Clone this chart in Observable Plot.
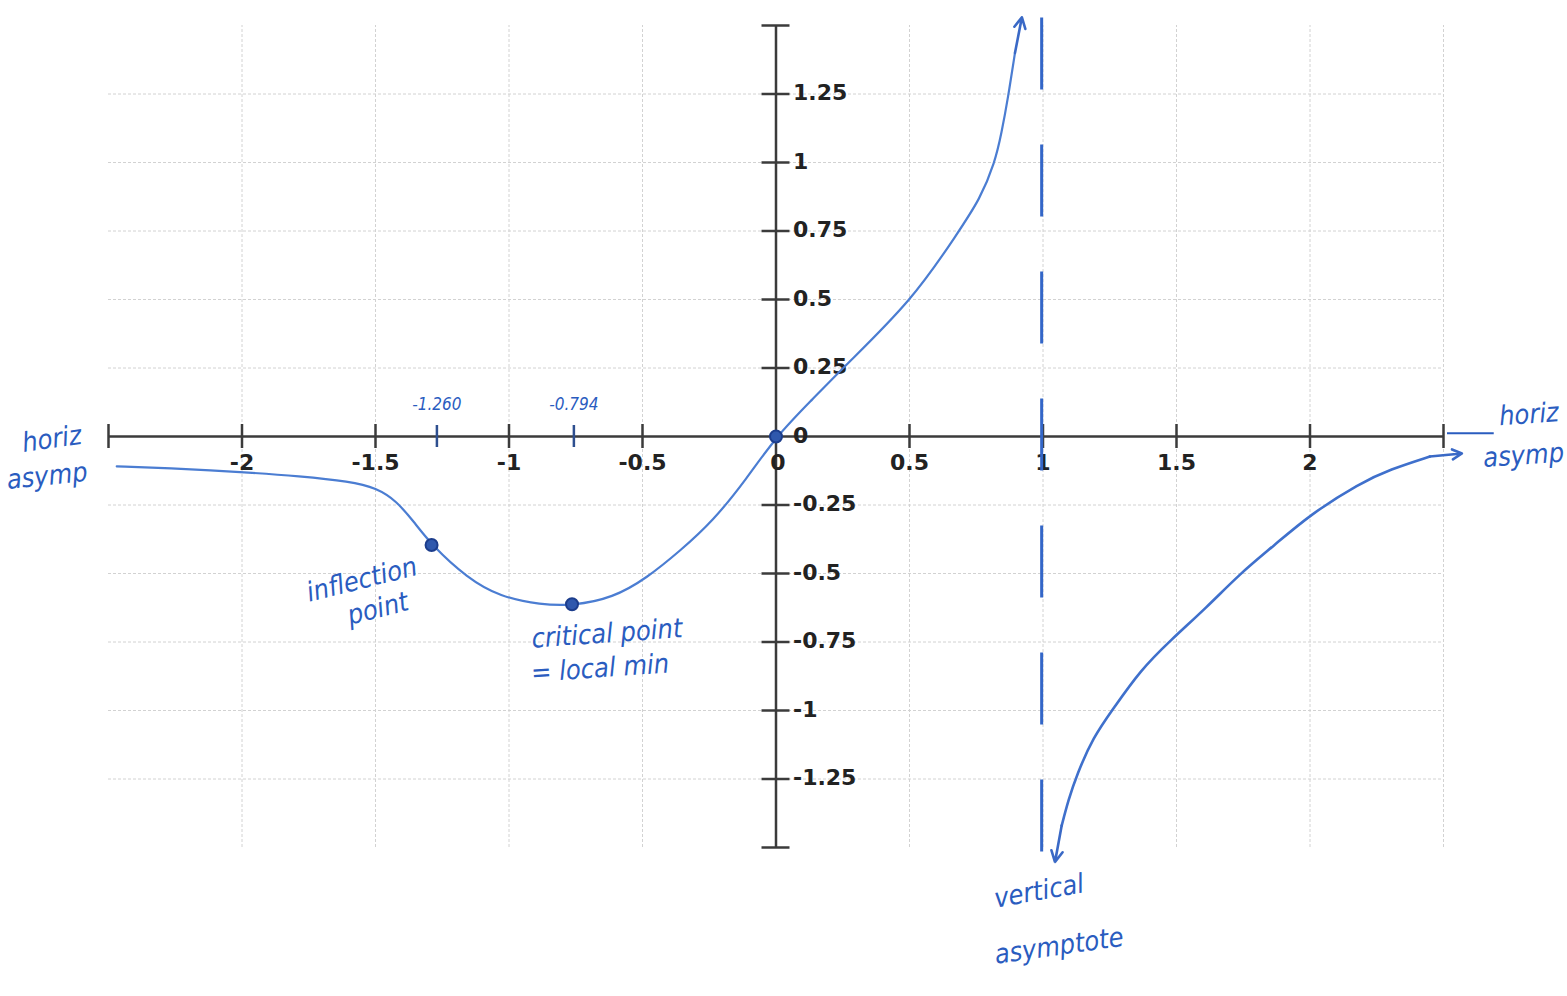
<!DOCTYPE html>
<html>
<head>
<meta charset="utf-8">
<script src="https://cdn.jsdelivr.net/npm/d3@7"></script>
<script src="https://cdn.jsdelivr.net/npm/@observablehq/plot@0.6"></script>
<style>
  html, body { margin: 0; padding: 0; background: #fff; }
  #chart svg { display: block; }
</style>
</head>
<body>
<div id="chart"></div>
<script>
// ---- axis ticks ----
const xTickValues = [-2, -1.5, -1, -0.5, 0.5, 1, 1.5, 2];
const xTickLabels = ["-2", "-1.5", "-1", "-0.5", "0.5", "1", "1.5", "2"];
const yTickValues = [1.25, 1, 0.75, 0.5, 0.25, 0, -0.25, -0.5, -0.75, -1, -1.25];
const yTickLabels = ["1.25", "1", "0.75", "0.5", "0.25", "0", "-0.25", "-0.5", "-0.75", "-1", "-1.25"];
const xAxisEnds = [-2.5, 2.5];
const yAxisEnds = [-1.5, 1.5];
const gridX = [-2, -1.5, -1, -0.5, 0.5, 1, 1.5, 2, 2.5];
const gridY = [1.25, 1, 0.75, 0.5, 0.25, -0.25, -0.5, -0.75, -1, -1.25];

// ---- sketched curve ----
const leftBranchX = [-2.469, -2.282, -1.995, -1.783, -1.596, -1.496, -1.421, -1.358, -1.29, -1.157, -1.034, -0.88, -0.764, -0.61, -0.483, -0.36, -0.236, -0.109, 0, 0.139, 0.25, 0.513, 0.682, 0.764, 0.82, 0.845, 0.869, 0.895];
const leftBranchY = [-0.109, -0.115, -0.13, -0.145, -0.164, -0.188, -0.236, -0.309, -0.396, -0.516, -0.585, -0.614, -0.618, -0.589, -0.516, -0.418, -0.309, -0.153, 0, 0.138, 0.25, 0.5, 0.745, 0.866, 1.0, 1.109, 1.236, 1.4];
const leftTip = [0.921, 1.53];

const rightBranchX = [1.07, 1.095, 1.126, 1.188, 1.263, 1.363, 1.476, 1.613, 1.738, 1.863, 2.0, 2.187, 2.3, 2.449];
const rightBranchY = [-1.42, -1.327, -1.236, -1.097, -0.994, -0.855, -0.745, -0.624, -0.5, -0.4, -0.285, -0.17, -0.12, -0.073];
const rightBottomTip = [1.045, -1.553];
const rightEndTip = [2.569, -0.062];

// ---- marked points ----
const keyPointX = [-1.29, -0.764, 0];
const keyPointY = [-0.396, -0.612, 0];
const markedX = [-1.27, -0.757];
const markedLabels = ["-1.260", "-0.794"];
const asymptoteX = [0.995];
const asymptoteSpan = [1.527, -1.535];

// ---- handwritten notes ----
const noteTexts = ["horiz", "asymp", "horiz", "asymp", "inflection", "point", "critical point", "= local min", "vertical", "asymptote"];
const noteX = [-2.712, -2.73, 2.82, 2.80, -1.551, -1.491, -0.633, -0.659, 0.985, 1.06];
const noteY = [-0.01, -0.145, 0.08, -0.07, -0.523, -0.629, -0.72, -0.847, -1.66, -1.86];
const noteRotate = [-8, -6, -4, -4, -14, -14, -4, -4, -10, -8];

// ---- tables built from the arrays ----
const xTicks = xTickValues.map((v, i) => ({v, label: xTickLabels[i]}));
const yTicks = yTickValues.map((v, i) => ({v, label: yTickLabels[i]}));
const leftBranch = leftBranchX.map((x, i) => ({x, y: leftBranchY[i]}));
const rightBranch = rightBranchX.map((x, i) => ({x, y: rightBranchY[i]}));
const lastLeft = leftBranch[leftBranch.length - 1];
const firstRight = rightBranch[0];
const lastRight = rightBranch[rightBranch.length - 1];
const arrows = [
  {x1: lastLeft.x, y1: lastLeft.y, x2: leftTip[0], y2: leftTip[1]},
  {x1: firstRight.x, y1: firstRight.y, x2: rightBottomTip[0], y2: rightBottomTip[1]},
  {x1: lastRight.x, y1: lastRight.y, x2: rightEndTip[0], y2: rightEndTip[1]}
];
const keyPoints = keyPointX.map((x, i) => ({x, y: keyPointY[i]}));
const marked = markedX.map((x, i) => ({x, label: markedLabels[i]}));
const notes = noteTexts.map((t, i) => ({text: t, x: noteX[i], y: noteY[i], rotate: noteRotate[i]}));

const ink = "#2a5cbf";
const axisInk = "#3b3b3b";
const noteFont = "'DejaVu Sans Condensed', 'Liberation Sans Narrow', 'DejaVu Sans', sans-serif";

const chart = Plot.plot({
  width: 1567,
  height: 996,
  marginLeft: 108,
  marginRight: 124,
  marginTop: 25,
  marginBottom: 149,
  x: {domain: [-2.5, 2.5], axis: null},
  y: {domain: [-1.5, 1.5], axis: null},
  style: {background: "#fff", fontFamily: "'DejaVu Sans', sans-serif", overflow: "visible"},
  marks: [
    // grid
    Plot.ruleX(gridX, {x: d => d, y1: yAxisEnds[0], y2: yAxisEnds[1], stroke: "#d2d2d2", strokeWidth: 1, strokeDasharray: "3,2"}),
    Plot.ruleY(gridY, {y: d => d, x1: xAxisEnds[0], x2: xAxisEnds[1], stroke: "#d2d2d2", strokeWidth: 1, strokeDasharray: "3,2"}),
    // axes
    Plot.ruleY([0], {x1: xAxisEnds[0], x2: xAxisEnds[1], stroke: axisInk, strokeWidth: 2.5}),
    Plot.ruleX([0], {y1: yAxisEnds[0], y2: yAxisEnds[1], stroke: axisInk, strokeWidth: 2.5}),
    Plot.ruleX(xTickValues.concat(xAxisEnds), {x: d => d, y1: 0, y2: 0, insetTop: -12, insetBottom: -12, stroke: axisInk, strokeWidth: 2.5}),
    Plot.ruleY(yTickValues.filter(v => v !== 0).concat(yAxisEnds), {y: d => d, x1: 0, x2: 0, insetLeft: -14, insetRight: -14, stroke: axisInk, strokeWidth: 2.5}),
    Plot.text(xTicks, {x: "v", y: 0, text: "label", dy: 26, fontSize: 22, fontWeight: "bold", fill: "#222"}),
    Plot.text(["0"], {x: 0, y: 0, text: d => d, dy: 26, dx: 2, fontSize: 22, fontWeight: "bold", fill: "#222"}),
    Plot.text(yTicks, {x: 0, y: "v", text: "label", dx: 17, dy: -1, textAnchor: "start", fontSize: 22, fontWeight: "bold", fill: "#222"}),
    // hand-marked ticks on x axis
    Plot.ruleX(marked, {x: "x", y1: 0, y2: 0, insetTop: -11, insetBottom: -11, stroke: "#2e4f8f", strokeWidth: 2.5}),
    Plot.text(marked, {x: "x", y: 0, text: "label", dy: -32, fontSize: 17, fontStyle: "italic", fontFamily: noteFont, fill: ink}),
    // vertical asymptote
    Plot.ruleX(asymptoteX, {x: d => d, y1: asymptoteSpan[0], y2: asymptoteSpan[1], stroke: "#3366c8", strokeWidth: 3, strokeDasharray: "72,55"}),
    // curve
    Plot.line(leftBranch, {x: "x", y: "y", curve: "basis", stroke: "#4b7dd2", strokeWidth: 2.2}),
    Plot.line(rightBranch, {x: "x", y: "y", curve: "basis", stroke: "#3f70cc", strokeWidth: 2.6}),
    Plot.arrow(arrows, {x1: "x1", y1: "y1", x2: "x2", y2: "y2", stroke: "#3a69c6", strokeWidth: 2.6, headLength: 20, headAngle: 55}),
    // leader line to right note
    Plot.ruleY([0.012], {x1: 2.515, x2: 2.69, stroke: ink, strokeWidth: 2}),
    // key points
    Plot.dot(keyPoints, {x: "x", y: "y", r: 6, fill: "#2f58ad", stroke: "#1c3d8c", strokeWidth: 2}),
    // notes
    Plot.text(notes, {x: "x", y: "y", text: "text", rotate: "rotate", fontSize: 27, fontStyle: "italic", fontFamily: noteFont, fill: ink})
  ]
});
document.getElementById("chart").append(chart);
</script>
</body>
</html>
